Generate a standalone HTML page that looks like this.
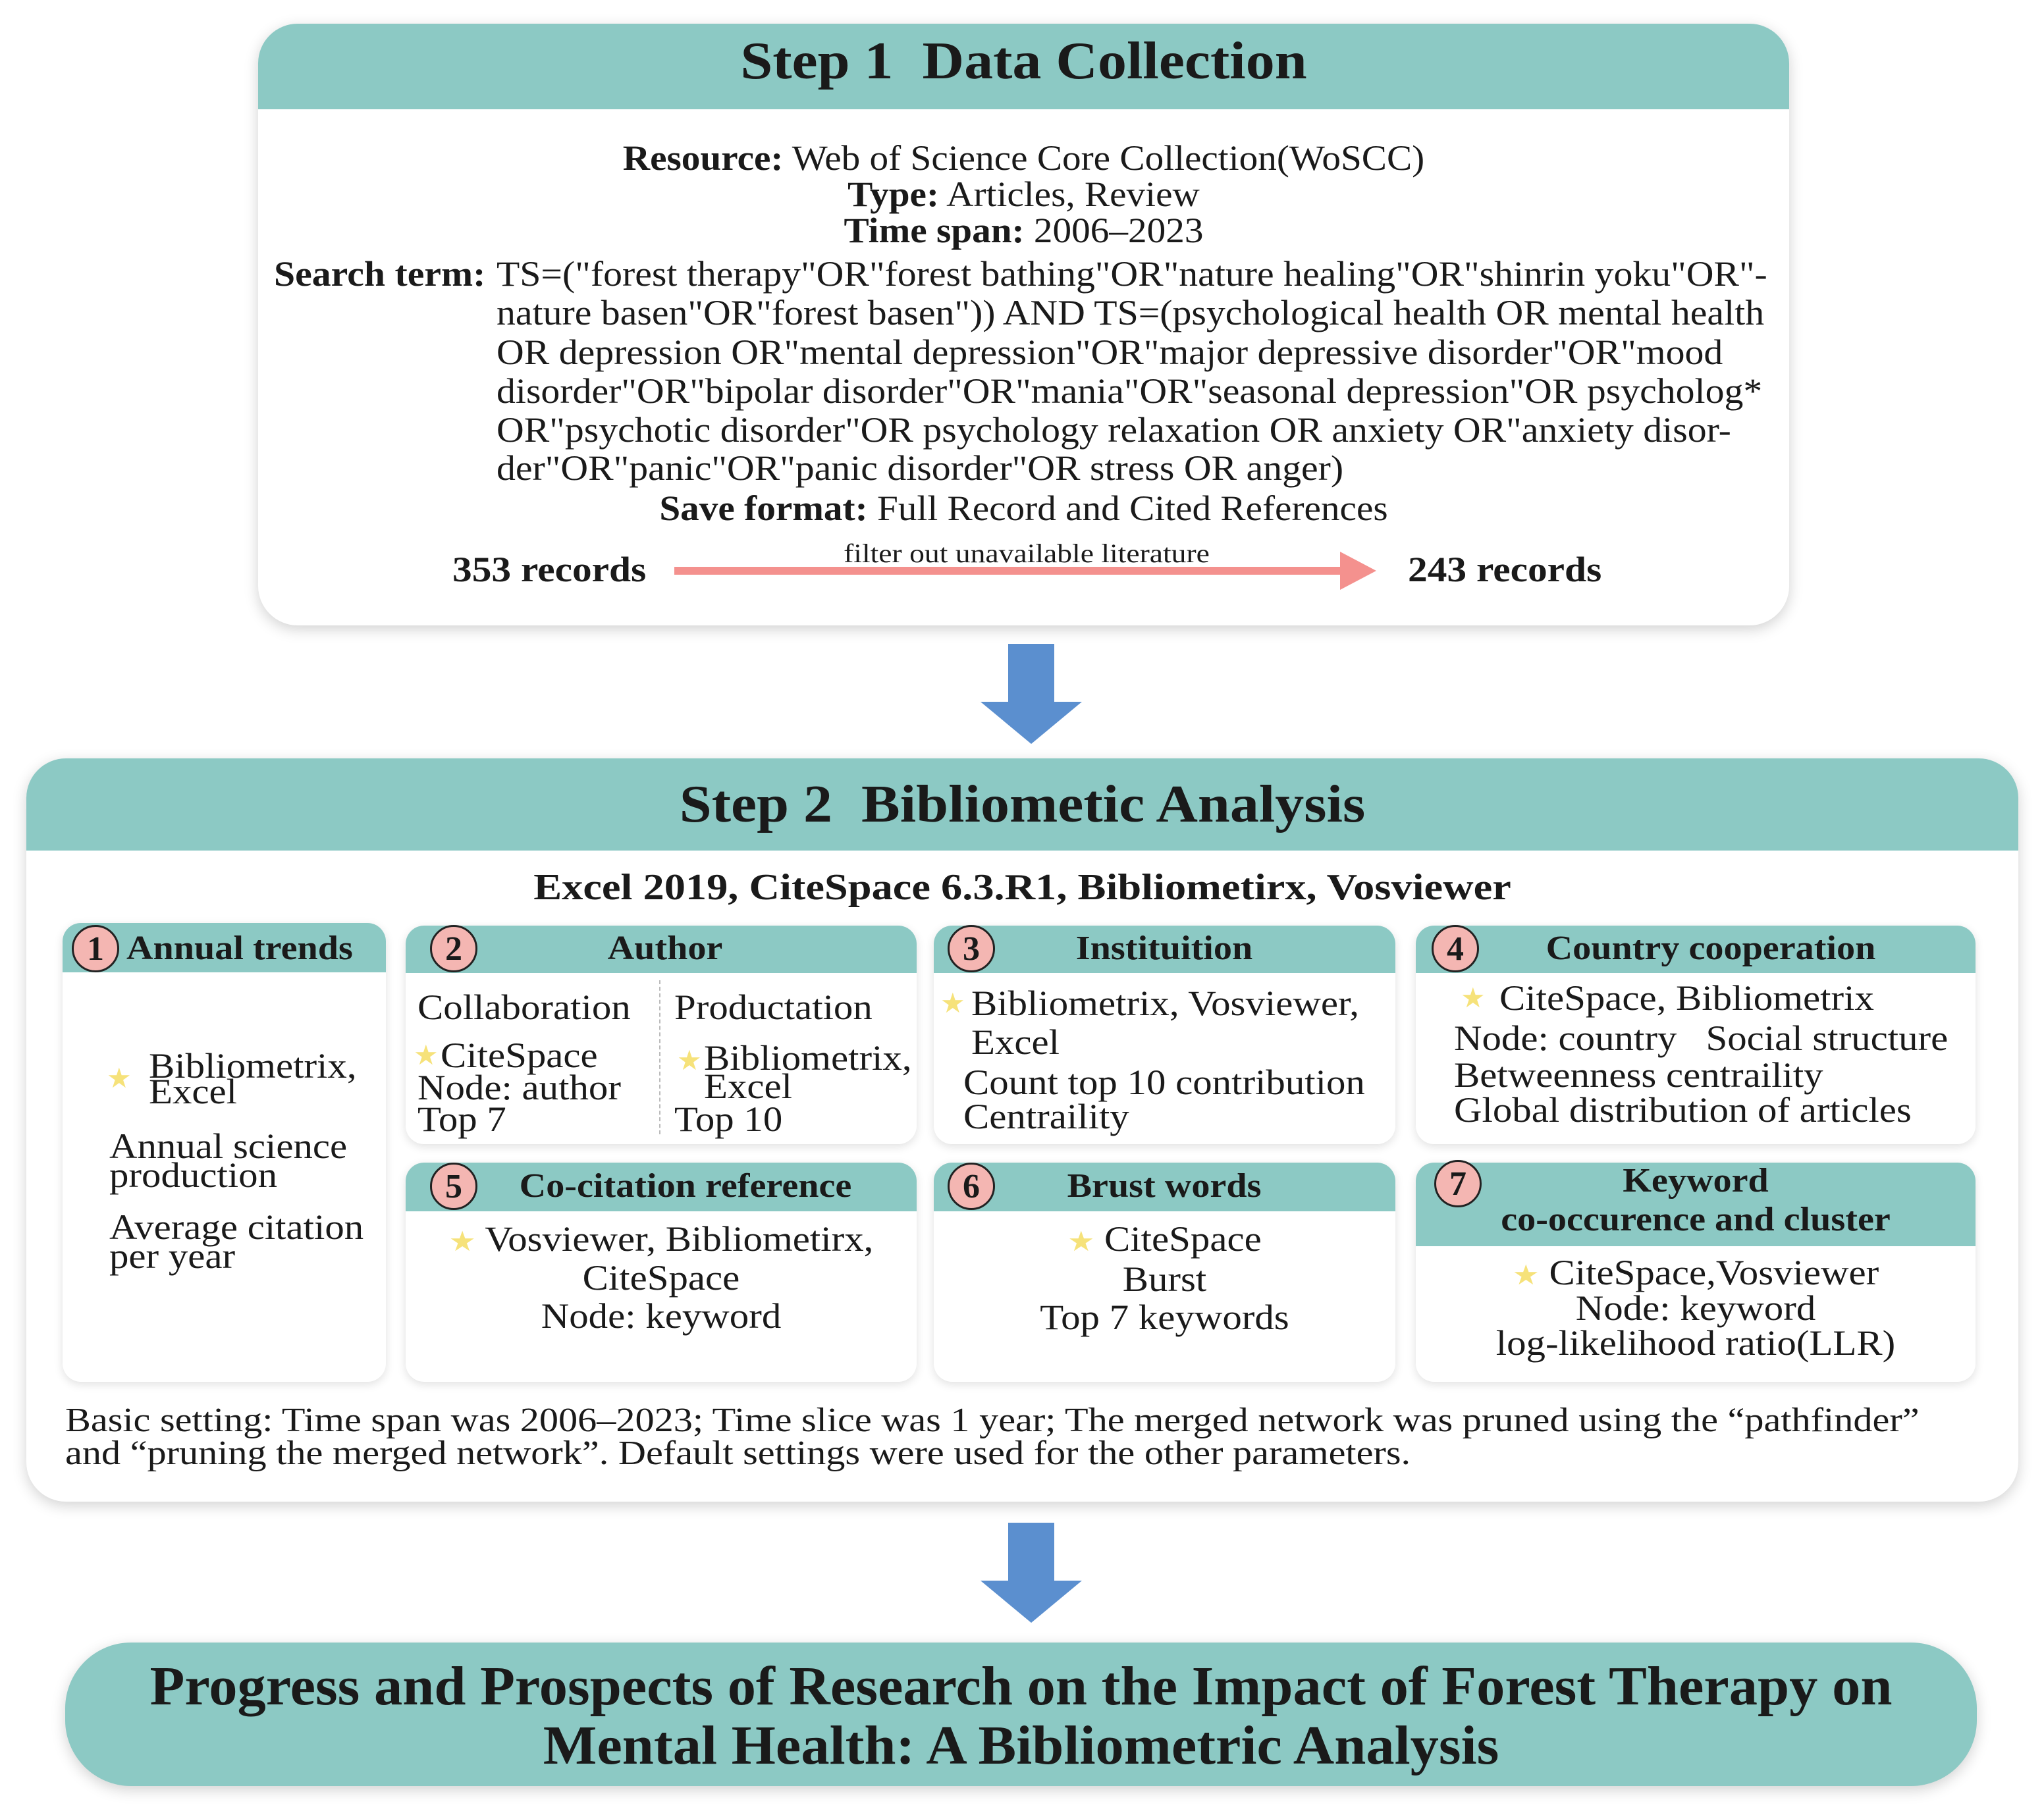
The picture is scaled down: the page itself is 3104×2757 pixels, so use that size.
<!DOCTYPE html>
<html><head><meta charset="utf-8">
<style>
html,body{margin:0;padding:0;background:#fff;}
body{width:3104px;height:2757px;position:relative;overflow:hidden;font-family:"Liberation Serif",serif;color:#1a1a1a;}
.t{position:absolute;white-space:nowrap;line-height:1;transform-origin:left center;}
.c{text-align:center;transform-origin:center center;}
.b{font-weight:bold;}
.box{position:absolute;background:#fff;border-radius:60px;box-shadow:0 6px 22px rgba(0,0,0,0.18);overflow:hidden;}
.hd{position:absolute;left:0;right:0;top:0;background:#8cc9c4;}
.sb{position:absolute;background:#fff;border-radius:28px;box-shadow:0 4px 14px rgba(0,0,0,0.12);overflow:hidden;}
.sh{position:absolute;left:0;right:0;top:0;background:#8cc9c4;}
.cir{position:absolute;width:72px;height:72px;border-radius:50%;background:#f4b6b2;border:3px solid #222;box-sizing:border-box;font-size:52px;line-height:68px;text-align:center;font-weight:bold;}
.st{position:absolute;color:#f6e27a;font-size:42px;line-height:1;}
.s1{font-size:54px;transform:scaleX(1.06);}
.sr{font-size:54px;transform:scaleX(1.07);}
.bx{font-size:54px;transform:scaleX(1.09);}
.hh{font-size:52px;transform:scaleX(1.08);}
.big{font-size:80px;transform:scaleX(1.1);}
</style></head><body>

<!-- Step 1 -->
<div class="box" style="left:392px;top:36px;width:2325px;height:914px;">
  <div class="hd" style="height:130px;"></div>
</div>
<div class="t c b big" style="left:392px;width:2325px;top:53px;">Step 1&nbsp; Data Collection</div>
<div class="t c s1" style="left:392px;width:2325px;top:213px;"><b>Resource:</b> Web of Science Core Collection(WoSCC)</div>
<div class="t c s1" style="left:392px;width:2325px;top:268px;"><b>Type:</b> Articles, Review</div>
<div class="t c s1" style="left:392px;width:2325px;top:323px;"><b>Time span:</b> 2006–2023</div>
<div class="t sr b" style="left:416px;top:389px;">Search term:</div>
<div class="t sr" style="left:754px;top:389px;">TS=("forest therapy"OR"forest bathing"OR"nature healing"OR"shinrin yoku"OR"-</div>
<div class="t sr" style="left:754px;top:448px;">nature basen"OR"forest basen")) AND TS=(psychological health OR mental health</div>
<div class="t sr" style="left:754px;top:508px;">OR depression OR"mental depression"OR"major depressive disorder"OR"mood</div>
<div class="t sr" style="left:754px;top:567px;">disorder"OR"bipolar disorder"OR"mania"OR"seasonal depression"OR psycholog*</div>
<div class="t sr" style="left:754px;top:626px;">OR"psychotic disorder"OR psychology relaxation OR anxiety OR"anxiety disor-</div>
<div class="t sr" style="left:754px;top:684px;">der"OR"panic"OR"panic disorder"OR stress OR anger)</div>
<div class="t c s1" style="left:392px;width:2325px;top:745px;"><b>Save format:</b> Full Record and Cited References</div>
<div class="t b" style="left:687px;top:838px;font-size:54px;transform:scaleX(1.1);">353 records</div>
<div class="t b" style="left:2138px;top:838px;font-size:54px;transform:scaleX(1.1);">243 records</div>
<div class="t c" style="left:1024px;width:1070px;top:821px;font-size:40px;transform:scaleX(1.14);">filter out unavailable literature</div>
<svg style="position:absolute;left:0;top:0" width="3104" height="1000">
  <rect x="1024" y="861" width="1020" height="12" fill="#f4918e"/>
  <polygon points="2035,838 2090,867 2035,896" fill="#f4918e"/>
</svg>

<!-- arrow 1 -->
<svg style="position:absolute;left:1489px;top:978px" width="154" height="152">
  <polygon points="42,0 112,0 112,88 154,88 77,152 0,88 42,88" fill="#5b8fcf"/>
</svg>

<!-- Step 2 -->
<div class="box" style="left:40px;top:1152px;width:3025px;height:1129px;">
  <div class="hd" style="height:140px;"></div>
</div>
<div class="t c b big" style="left:40px;width:3025px;top:1182px;">Step 2&nbsp; Bibliometic Analysis</div>
<div class="t c b" style="left:40px;width:3025px;top:1320px;font-size:56px;transform:scaleX(1.15);">Excel 2019, CiteSpace 6.3.R1, Bibliometirx, Vosviewer</div>

<!-- sub boxes -->
<div class="sb" style="left:95px;top:1402px;width:491px;height:697px;"><div class="sh" style="height:75px;"></div></div>
<div class="sb" style="left:616px;top:1406px;width:776px;height:332px;"><div class="sh" style="height:72px;"></div></div>
<div class="sb" style="left:1418px;top:1406px;width:701px;height:332px;"><div class="sh" style="height:72px;"></div></div>
<div class="sb" style="left:2150px;top:1406px;width:850px;height:332px;"><div class="sh" style="height:72px;"></div></div>
<div class="sb" style="left:616px;top:1766px;width:776px;height:333px;"><div class="sh" style="height:74px;"></div></div>
<div class="sb" style="left:1418px;top:1766px;width:701px;height:333px;"><div class="sh" style="height:74px;"></div></div>
<div class="sb" style="left:2150px;top:1766px;width:850px;height:333px;"><div class="sh" style="height:127px;"></div></div>

<!-- circles -->
<div class="cir" style="left:109px;top:1405px;">1</div>
<div class="cir" style="left:653px;top:1405px;">2</div>
<div class="cir" style="left:1439px;top:1405px;">3</div>
<div class="cir" style="left:2174px;top:1405px;">4</div>
<div class="cir" style="left:653px;top:1766px;">5</div>
<div class="cir" style="left:1439px;top:1766px;">6</div>
<div class="cir" style="left:2178px;top:1762px;">7</div>

<!-- headers -->
<div class="t b hh" style="left:192px;top:1415px;">Annual trends</div>
<div class="t c b hh" style="left:810px;width:400px;top:1415px;">Author</div>
<div class="t c b hh" style="left:1518px;width:500px;top:1415px;">Instituition</div>
<div class="t c b hh" style="left:2298px;width:600px;top:1415px;">Country cooperation</div>
<div class="t c b hh" style="left:741px;width:600px;top:1776px;">Co-citation reference</div>
<div class="t c b hh" style="left:1518px;width:500px;top:1776px;">Brust words</div>
<div class="t c b hh" style="left:2250px;width:650px;top:1768px;">Keyword</div>
<div class="t c b hh" style="left:2250px;width:650px;top:1827px;">co-occurence and cluster</div>

<!-- box1 -->
<div class="st" style="left:162px;top:1618px;">★</div>
<div class="t bx" style="left:226px;top:1592px;">Bibliometrix,</div>
<div class="t bx" style="left:226px;top:1631px;">Excel</div>
<div class="t bx" style="left:166px;top:1714px;">Annual science</div>
<div class="t bx" style="left:166px;top:1758px;">production</div>
<div class="t bx" style="left:166px;top:1837px;">Average citation</div>
<div class="t bx" style="left:166px;top:1881px;">per year</div>

<!-- box2 -->
<div style="position:absolute;left:1001px;top:1489px;height:234px;border-left:2px dashed #bbb;"></div>
<div class="t bx" style="left:634px;top:1503px;">Collaboration</div>
<div class="t bx" style="left:1024px;top:1503px;">Productation</div>
<div class="st" style="left:628px;top:1583px;">★</div>
<div class="t bx" style="left:669px;top:1576px;">CiteSpace</div>
<div class="t bx" style="left:634px;top:1625px;">Node: author</div>
<div class="t bx" style="left:634px;top:1673px;">Top 7</div>
<div class="st" style="left:1028px;top:1591px;">★</div>
<div class="t bx" style="left:1069px;top:1580px;">Bibliometrix,</div>
<div class="t bx" style="left:1069px;top:1623px;">Excel</div>
<div class="t bx" style="left:1024px;top:1673px;">Top 10</div>

<!-- box3 -->
<div class="st" style="left:1428px;top:1504px;">★</div>
<div class="t bx" style="left:1475px;top:1497px;">Bibliometrix, Vosviewer,</div>
<div class="t bx" style="left:1475px;top:1556px;">Excel</div>
<div class="t bx" style="left:1463px;top:1617px;">Count top 10 contribution</div>
<div class="t bx" style="left:1463px;top:1669px;">Centraility</div>

<!-- box4 -->
<div class="st" style="left:2218px;top:1496px;">★</div>
<div class="t bx" style="left:2277px;top:1489px;">CiteSpace, Bibliometrix</div>
<div class="t bx" style="left:2208px;top:1550px;">Node: country&nbsp;&nbsp; Social structure</div>
<div class="t bx" style="left:2208px;top:1606px;">Betweenness centraility</div>
<div class="t bx" style="left:2208px;top:1659px;">Global distribution of articles</div>

<!-- box5 -->
<div class="t c bx" style="left:616px;width:776px;top:1855px;"><span style="color:#f6e27a;font-size:42px;">★</span> Vosviewer, Bibliometirx,</div>
<div class="t c bx" style="left:616px;width:776px;top:1914px;">CiteSpace</div>
<div class="t c bx" style="left:616px;width:776px;top:1972px;">Node: keyword</div>

<!-- box6 -->
<div class="t c bx" style="left:1418px;width:701px;top:1855px;"><span style="color:#f6e27a;font-size:42px;">★</span> CiteSpace</div>
<div class="t c bx" style="left:1418px;width:701px;top:1916px;">Burst</div>
<div class="t c bx" style="left:1418px;width:701px;top:1974px;">Top 7 keywords</div>

<!-- box7 -->
<div class="t c bx" style="left:2150px;width:850px;top:1906px;"><span style="color:#f6e27a;font-size:42px;">★</span> CiteSpace,Vosviewer</div>
<div class="t c bx" style="left:2150px;width:850px;top:1960px;">Node: keyword</div>
<div class="t c bx" style="left:2150px;width:850px;top:2013px;">log-likelihood ratio(LLR)</div>

<div class="t" style="left:99px;top:2132px;font-size:52px;transform:scaleX(1.12);">Basic setting: Time span was 2006–2023; Time slice was 1 year; The merged network was pruned using the “pathfinder”</div>
<div class="t" style="left:99px;top:2182px;font-size:52px;transform:scaleX(1.12);">and “pruning the merged network”. Default settings were used for the other parameters.</div>

<!-- arrow 2 -->
<svg style="position:absolute;left:1489px;top:2313px" width="154" height="152">
  <polygon points="42,0 112,0 112,88 154,88 77,152 0,88 42,88" fill="#5b8fcf"/>
</svg>

<!-- final -->
<div class="box" style="left:99px;top:2495px;width:2903px;height:218px;background:#8cc9c4;border-radius:100px;"></div>
<div class="t c b" style="left:99px;width:2903px;top:2520px;font-size:84px;transform:scaleX(1.03);">Progress and Prospects of Research on the Impact of Forest Therapy on</div>
<div class="t c b" style="left:99px;width:2903px;top:2610px;font-size:84px;transform:scaleX(1.03);">Mental Health: A Bibliometric Analysis</div>

</body></html>
